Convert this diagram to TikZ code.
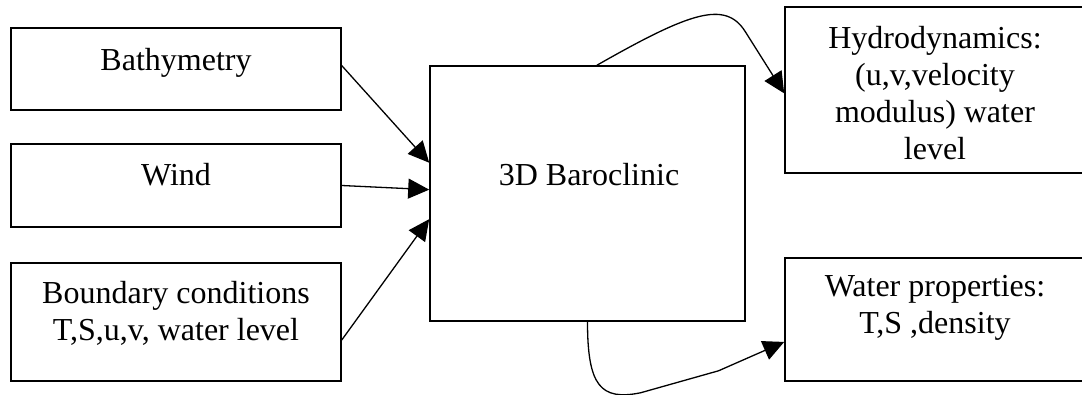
\documentclass[tikz,border=0pt]{standalone}
\usepackage{fontspec}
\setmainfont{Liberation Serif}
\usetikzlibrary{arrows.meta,calc}
\begin{document}
\begin{tikzpicture}[x=1pt,y=-1pt,
  box/.style={draw=black,line width=1.6pt,rectangle,inner sep=0pt},
  txt/.style={align=center,anchor=north,inner sep=0pt,font=\fontsize{32}{37}\selectfont},
  conn/.style={line width=1.3pt,-{Triangle[length=21pt,width=20pt]}}]
\useasboundingbox (0,0) rectangle (1082,394);
\clip (0,0) rectangle (1082,394);
% input boxes
\node[box,minimum width=330pt,minimum height=82pt] (bat) at (176,69) {};
\node[box,minimum width=330pt,minimum height=83pt] (win) at (176,185.5) {};
\node[box,minimum width=330pt,minimum height=118pt] (bnd) at (176,322) {};
% model
\node[box,minimum width=315pt,minimum height=255pt] (bar) at (587.5,193.5) {};
% outputs
\node[box,minimum width=305pt,minimum height=166pt] (hyd) at (937.5,90) {};
\node[box,minimum width=305pt,minimum height=123pt] (wat) at (937.5,319.5) {};
% texts
\node[txt] (tbat) at (176,48) {Bathymetry};
\node[txt] (twin) at (176,163) {Wind};
\node[txt] (tbnd) at (176,281) {Boundary conditions\\T,S,u,v, water level};
\node[txt] (tbar) at (589,163) {3D Baroclinic};
\node[txt] (thyd) at (935,26) {Hydrodynamics:\\(u,v,velocity\\modulus) water\\level};
\node[txt] (twat) at (935,275) {Water properties:\\T,S ,density};
% coordinates on borders
\coordinate (b1) at ($(bat.north east)!0.46!(bat.south east)$);
\coordinate (w1) at (win.east);
\coordinate (c1) at ($(bnd.north east)!0.65!(bnd.south east)$);
\coordinate (e1) at ($(bar.north west)!0.38!(bar.south west)$);
\coordinate (e2) at ($(bar.north west)!0.485!(bar.south west)$);
\coordinate (e3) at ($(bar.north west)!0.6!(bar.south west)$);
\coordinate (t1) at ($(bar.north west)!0.53!(bar.north east)$);
\coordinate (h1) at ($(hyd.north west)!0.52!(hyd.south west)$);
\coordinate (s1) at ($(bar.south west)!0.5!(bar.south east)$);
\coordinate (p1) at ($(wat.north west)!0.68!(wat.south west)$);
% connectors
\draw[conn] (b1) -- (e1);
\draw[conn] (w1) -- (e2);
\draw[conn] (c1) -- (e3);
\draw[conn] (t1) .. controls +(93,-53) and +(-20,-31) .. ++(148,-34) -- (h1);
\draw[conn] (s1) .. controls +(0,64) and +(-40,8) .. ++(53,71) -- ++(78,-22) -- (p1);
\end{tikzpicture}
\end{document}
